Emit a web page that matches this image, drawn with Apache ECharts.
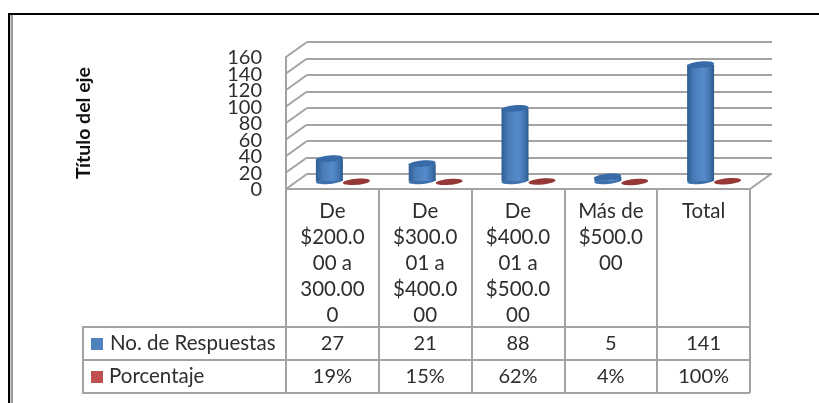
<!DOCTYPE html>
<html>
<head>
<meta charset="utf-8">
<title>Respuestas</title>
<script src="https://cdn.jsdelivr.net/npm/echarts@6/dist/echarts.min.js"></script>
<style>
html,body{margin:0;padding:0;background:#fff}
#main{width:819px;height:403px}
</style>
</head>
<body>
<div id="main"></div>
<script>
var categorias = ['De\n$200.0\n00 a\n300.00\n0', 'De\n$300.0\n01 a\n$400.0\n00', 'De\n$400.0\n01 a\n$500.0\n00', 'Más de\n$500.0\n00', 'Total'];
var respuestas = [27, 21, 88, 5, 141];
var porcentaje = [19, 15, 62, 4, 100];
var marcas = [0, 20, 40, 60, 80, 100, 120, 140, 160];
var nombreRespuestas = 'No. de Respuestas';
var nombrePorcentaje = 'Porcentaje';

var fuente = 'Lato';
var gris = '#a3a3a3';
var tinta = '#2e2e2e';
var fondoX = 21, fondoY = -15; //profundidad de las paredes

var chart = echarts.init(document.getElementById('main'), null, {renderer: 'canvas'});

function elipse(x, y, rx, ry, color) {
  return {
    type: 'ellipse', x: x, y: y, rotation: 0.09,
    shape: {cx: 0, cy: 0, rx: rx, ry: ry},
    style: {fill: color}
  };
}

//cilindro azul
function cilindro(params, api) {
  var i = api.value(0);
  var base = api.coord([i, 0]);
  var tope = api.coord([i, api.value(1)]);
  var x = base[0] - 3, yb = base[1] - 8, yt = tope[1] - 8;
  var grad = new echarts.graphic.LinearGradient(0, 0, 1, 0, [
    {offset: 0, color: '#2f5d93'},
    {offset: 0.25, color: '#4a7cb8'},
    {offset: 0.62, color: '#568ccd'},
    {offset: 0.85, color: '#4173ae'},
    {offset: 1, color: '#2c5a8f'}
  ]);
  return {
    type: 'group',
    children: [
      elipse(x, yb, 13.5, 3, '#3f71ad'),
      {type: 'rect', shape: {x: x - 13.5, y: yt, width: 27, height: yb - yt}, style: {fill: grad}},
      elipse(x, yt, 13.5, 3.2, '#376aa6')
    ]
  };
}

//disco rojo, casi plano porque el valor es un tanto por uno
function disco(params, api) {
  var i = api.value(0);
  var p = api.coord([i, api.value(1)]);
  return elipse(p[0] + 24, p[1] - 7, 13.5, 3, '#953735');
}

//lineas diagonales de la pared izquierda, borde del suelo y etiqueta de cada marca
//las etiquetas van aqui porque el eje oculta las que se solapan
function pared(params, api) {
  var v = api.value(1);
  var banda = api.size([1, 0])[0];
  var p = api.coord([0, v]);
  var x = p[0] - banda / 2;
  var lineas = [{
    type: 'line',
    shape: {x1: x, y1: p[1], x2: x + fondoX, y2: p[1] + fondoY},
    style: {stroke: gris, lineWidth: 2}
  }, {
    type: 'text',
    x: x - 24, y: p[1] + 1,
    style: {text: String(v), fill: tinta, font: '20px ' + fuente, textAlign: 'right', textVerticalAlign: 'middle'}
  }];
  if (v === 0) {
    var xd = x + banda * categorias.length;
    lineas.push({
      type: 'line',
      shape: {x1: xd, y1: p[1], x2: xd + fondoX, y2: p[1] + fondoY},
      style: {stroke: gris, lineWidth: 2}
    });
  }
  return {type: 'group', children: lineas};
}

//textos de la tabla de datos
function celda(fila) {
  return function (params, api) {
    var p = api.coord([api.value(0), 0]);
    return {
      type: 'text',
      x: p[0], y: fila,
      style: {
        text: api.value(2) + (api.value(3) ? '%' : ''),
        fill: tinta, font: '20px ' + fuente,
        textAlign: 'center', textVerticalAlign: 'middle'
      }
    };
  };
}

var filaResp = respuestas.map(function (v, i) { return [i, 0, v, 0]; });
var filaPorc = porcentaje.map(function (v, i) { return [i, 0, v, 1]; });

var graficos = [
  {type: 'rect', shape: {x: 8, y: 13, width: 811, height: 2}, style: {fill: '#000'}},
  {type: 'rect', shape: {x: 8, y: 13, width: 2, height: 390}, style: {fill: '#000'}},
  {type: 'rect', shape: {x: 10.5, y: 15, width: 2.5, height: 388}, style: {fill: '#9a9a9a'}},
  {type: 'polyline', shape: {points: [[750, 327], [83, 327], [83, 393], [750, 393]]}, style: {fill: null, stroke: gris, lineWidth: 2}},
  {type: 'line', shape: {x1: 83, y1: 360, x2: 750, y2: 360}, style: {stroke: gris, lineWidth: 2}},
  {type: 'rect', shape: {x: 91, y: 338, width: 12, height: 12}, style: {fill: '#4f81bd'}},
  {type: 'rect', shape: {x: 91, y: 371, width: 12, height: 12}, style: {fill: '#c0504d'}},
  {type: 'text', x: 110, y: 343, style: {text: nombreRespuestas, fill: tinta, font: '20.5px ' + fuente, textVerticalAlign: 'middle'}},
  {type: 'text', x: 109, y: 376, style: {text: nombrePorcentaje, fill: tinta, font: '20.5px ' + fuente, textVerticalAlign: 'middle'}}
];

var option = {
  backgroundColor: '#fff',
  animation: false,
  grid: [
    {left: 286, right: 69, top: 57, bottom: 214},
    {left: 307, right: 47, top: 42, bottom: 229}
  ],
  xAxis: [{
    type: 'category',
    gridIndex: 0,
    data: categorias,
    axisLine: {lineStyle: {color: gris, width: 2}},
    axisTick: {show: true, length: 204, lineStyle: {color: gris, width: 2}},
    axisLabel: {
      interval: 0, margin: 9, lineHeight: 26, verticalAlign: 'top',
      fontFamily: fuente, fontSize: 20.5, color: tinta
    }
  }, {
    type: 'category',
    gridIndex: 1,
    data: categorias,
    show: false
  }],
  yAxis: [{
    type: 'value',
    gridIndex: 0,
    min: 0, max: 160, interval: 20,
    name: 'Título del eje',
    nameLocation: 'middle',
    nameGap: 192,
    nameRotate: 90,
    nameTextStyle: {fontFamily: fuente, fontSize: 19.5, fontWeight: 'bold', color: '#111'},
    axisLine: {show: true, lineStyle: {color: gris, width: 2}},
    axisTick: {show: false},
    splitLine: {show: false},
    axisLabel: {show: false}
  }, {
    type: 'value',
    gridIndex: 1,
    min: 0, max: 160, interval: 20,
    axisLine: {show: false},
    axisTick: {show: false},
    axisLabel: {show: false},
    splitLine: {show: true, showMinLine: true, showMaxLine: true, lineStyle: {color: gris, width: 2}}
  }],
  series: [
    {
      type: 'custom', name: 'pared', renderItem: pared, clip: false, silent: true, z: 2,
      data: marcas.map(function (m) { return [0, m]; })
    },
    {
      type: 'custom', name: nombreRespuestas, renderItem: cilindro, clip: false, z: 3,
      data: respuestas.map(function (v, i) { return [i, v]; })
    },
    {
      type: 'custom', name: nombrePorcentaje, renderItem: disco, clip: false, z: 4,
      data: porcentaje.map(function (v, i) { return [i, v / 100]; })
    },
    {type: 'custom', renderItem: celda(344), clip: false, silent: true, z: 5, data: filaResp},
    {type: 'custom', renderItem: celda(377), clip: false, silent: true, z: 5, data: filaPorc}
  ],
  graphic: graficos
};
chart.setOption(option);

window.onresize = chart.resize;
</script>
</body>
</html>
